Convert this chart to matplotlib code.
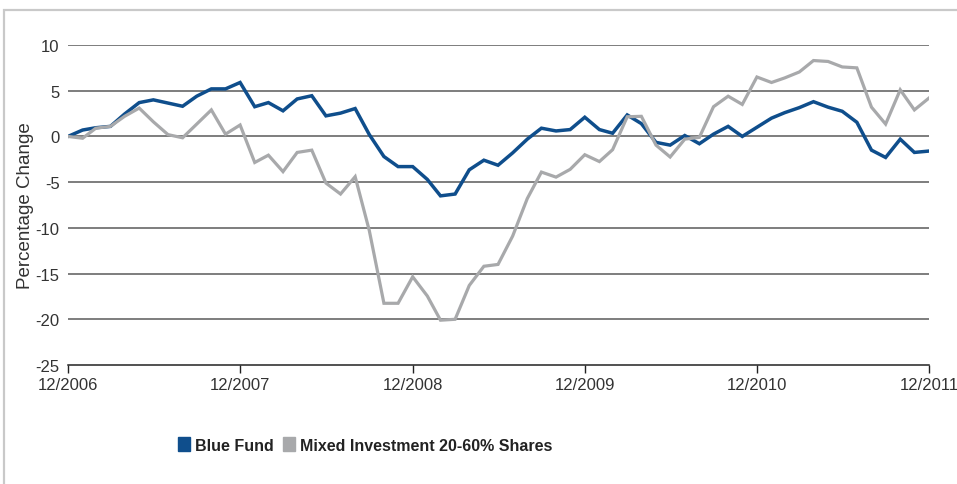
import matplotlib.pyplot as plt
import matplotlib.dates as mdates
import numpy as np
import pandas as pd
from matplotlib.patches import Rectangle

plt.rcParams["font.family"] = ["Liberation Sans", "DejaVu Sans"]
plt.rcParams["axes.unicode_minus"] = False

# monthly cumulative change, 12/2006 .. 12/2011
MONTHS = pd.date_range("2006-12-31", periods=61, freq="ME")
BLUE_FUND = [
    0.0, 0.7, 0.95, 1.1, 2.45, 3.7, 4.0, 3.65, 3.3, 4.4, 5.2, 5.2,
    5.9, 3.25, 3.7, 2.8, 4.1, 4.45, 2.25, 2.55, 3.05, 0.2, -2.2, -3.3,
    -3.3, -4.7, -6.5, -6.3, -3.65, -2.6, -3.15, -1.8, -0.3, 0.9, 0.6, 0.75,
    2.1, 0.75, 0.35, 2.35, 1.4, -0.65, -0.95, 0.1, -0.8, 0.25, 1.1, 0.0,
    1.0, 2.0, 2.6, 3.15, 3.8, 3.2, 2.75, 1.55, -1.5, -2.3, -0.3, -1.75,
    -1.6,
]
MIXED_20_60 = [
    0.0, -0.2, 0.9, 1.1, 2.2, 3.1, 1.6, 0.2, -0.15, 1.35, 2.9, 0.25,
    1.25, -2.85, -2.05, -3.85, -1.75, -1.5, -5.1, -6.3, -4.4, -10.3, -18.25, -18.25,
    -15.35, -17.45, -20.1, -20.0, -16.3, -14.2, -14.0, -10.9, -6.8, -3.9, -4.45, -3.6,
    -2.0, -2.75, -1.45, 2.15, 2.2, -0.95, -2.25, -0.3, -0.1, 3.25, 4.4, 3.5,
    6.5, 5.9, 6.4, 7.05, 8.3, 8.2, 7.6, 7.5, 3.2, 1.35, 5.1, 2.9,
    4.2,
]
SERIES_NAMES = ["Blue Fund", "Mixed Investment 20-60% Shares"]
Y_TICKS = [-25, -20, -15, -10, -5, 0, 5, 10]

BLUE, GREY = "#0f4e8c", "#a8a9ab"
TEXT = "#333333"

fig = plt.figure(figsize=(9.57, 4.85), dpi=100, facecolor="white")
# light panel border (only its top and left edges fall inside the canvas)
fig.add_artist(Rectangle((4 / 957, -0.2), 1.2, 1.2 - 11 / 485,
                         transform=fig.transFigure, fill=False,
                         edgecolor="#c9c9c9", lw=1.6))
ax = fig.add_axes([68 / 957, 1 - 366 / 485, (929 - 68) / 957, (366 - 46) / 485])

ax.plot(MONTHS, BLUE_FUND, color=BLUE, lw=2.5, solid_joinstyle="miter", zorder=3)
ax.plot(MONTHS, MIXED_20_60, color=GREY, lw=2.3, solid_joinstyle="miter", zorder=4)

ax.set_xlim(MONTHS[0], MONTHS[-1])
ax.set_ylim(-25, 10)
ax.set_yticks(Y_TICKS)
for y in Y_TICKS[1:]:
    ax.axhline(y, color="#5a5a5a", lw=1.1, zorder=1)

ax.set_xticks(MONTHS[::12])
ax.xaxis.set_major_formatter(mdates.DateFormatter("%m/%Y"))
ax.tick_params(axis="x", direction="out", length=6, width=1, color="#222222",
               labelsize=12, labelcolor=TEXT, pad=3)
ax.tick_params(axis="y", length=0, labelsize=12, labelcolor=TEXT, pad=6)
for side in ("top", "right", "left"):
    ax.spines[side].set_visible(False)
ax.spines["bottom"].set_color("#222222")
ax.spines["bottom"].set_linewidth(1.1)
ax.set_ylabel("Percentage Change", fontsize=13.5, color=TEXT)
ax.yaxis.set_label_coords(-0.04, 0.50)

handles = [Rectangle((0, 0), 1, 1, color=BLUE), Rectangle((0, 0), 1, 1, color=GREY)]
fig.legend(handles, SERIES_NAMES, loc="center", bbox_to_anchor=(365 / 957, 1 - 446 / 485),
           ncol=2, frameon=False, handlelength=0.75, handleheight=0.95,
           handletextpad=0.3, columnspacing=0.6,
           prop={"weight": "bold", "size": 11.5})
for t in fig.legends[0].get_texts():
    t.set_color("#222222")

fig.savefig("out.png", dpi=100, facecolor="white")
